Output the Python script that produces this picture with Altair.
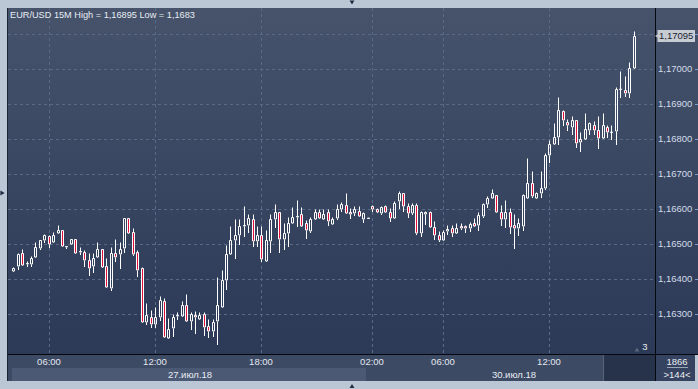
import altair as alt
import pandas as pd

# ---------------- data ----------------
idx = list(range(141))
opens = [1.16424,1.16438,1.16474,1.16443,1.16445,1.16465,1.16490,1.16511,1.16525,1.16506,
         1.16532,1.16541,1.16493,1.16500,1.16515,1.16477,1.16479,1.16455,1.16437,1.16465,
         1.16486,1.16437,1.16375,1.16474,1.16471,1.16489,1.16574,1.16534,1.16479,1.16431,
         1.16278,1.16293,1.16272,1.16291,1.16338,1.16232,1.16260,1.16296,1.16296,1.16326,
         1.16280,1.16297,1.16286,1.16300,1.16266,1.16251,1.16280,1.16320,1.16397,1.16472,
         1.16511,1.16527,1.16553,1.16555,1.16572,1.16510,1.16526,1.16453,1.16510,1.16572,
         1.16592,1.16514,1.16532,1.16560,1.16579,1.16586,1.16560,1.16539,1.16572,1.16593,
         1.16572,1.16592,1.16558,1.16574,1.16600,1.16612,1.16592,1.16590,1.16595,1.16572,
         1.16574,1.16610,1.16600,1.16590,1.16608,1.16593,1.16574,1.16625,1.16646,1.16608,
         1.16590,1.16612,1.16532,1.16586,1.16592,1.16550,1.16527,1.16512,1.16539,1.16547,
         1.16532,1.16552,1.16552,1.16546,1.16562,1.16555,1.16581,1.16614,1.16633,1.16640,
         1.16592,1.16572,1.16592,1.16555,1.16546,1.16553,1.16632,1.16675,1.16633,1.16646,
         1.16660,1.16755,1.16786,1.16806,1.16881,1.16849,1.16834,1.16855,1.16791,1.16800,
         1.16827,1.16841,1.16826,1.16805,1.16835,1.16820,1.16824,1.16943,1.16940,1.16932,
         1.17003]
highs = [1.16435,1.16474,1.16486,1.16452,1.16467,1.16506,1.16513,1.16529,1.16527,1.16535,
         1.16555,1.16542,1.16494,1.16516,1.16516,1.16491,1.16484,1.16474,1.16474,1.16506,
         1.16487,1.16460,1.16493,1.16516,1.16506,1.16575,1.16575,1.16546,1.16485,1.16435,
         1.16332,1.16312,1.16320,1.16353,1.16346,1.16289,1.16300,1.16307,1.16338,1.16357,
         1.16307,1.16309,1.16307,1.16307,1.16287,1.16287,1.16406,1.16427,1.16498,1.16552,
         1.16572,1.16572,1.16608,1.16587,1.16586,1.16552,1.16552,1.16541,1.16586,1.16614,
         1.16593,1.16560,1.16579,1.16606,1.16627,1.16606,1.16570,1.16579,1.16601,1.16601,
         1.16601,1.16600,1.16579,1.16615,1.16622,1.16646,1.16603,1.16608,1.16608,1.16592,
         1.16575,1.16612,1.16605,1.16609,1.16612,1.16605,1.16625,1.16653,1.16647,1.16619,
         1.16619,1.16617,1.16596,1.16596,1.16596,1.16567,1.16539,1.16541,1.16555,1.16555,
         1.16562,1.16560,1.16555,1.16565,1.16574,1.16592,1.16619,1.16638,1.16657,1.16641,
         1.16612,1.16627,1.16605,1.16586,1.16574,1.16644,1.16746,1.16710,1.16648,1.16710,
         1.16762,1.16798,1.16847,1.16922,1.16884,1.16859,1.16867,1.16856,1.16822,1.16876,
         1.16849,1.16851,1.16867,1.16876,1.16841,1.16841,1.16949,1.16995,1.16981,1.17020,
         1.17110]
lows = [1.16421,1.16427,1.16438,1.16436,1.16435,1.16460,1.16485,1.16505,1.16490,1.16504,
        1.16530,1.16493,1.16486,1.16499,1.16471,1.16469,1.16436,1.16410,1.16418,1.16460,
        1.16431,1.16376,1.16368,1.16450,1.16430,1.16476,1.16531,1.16467,1.16406,1.16276,
        1.16270,1.16260,1.16260,1.16280,1.16232,1.16231,1.16236,1.16284,1.16295,1.16279,
        1.16255,1.16245,1.16285,1.16239,1.16232,1.16236,1.16211,1.16319,1.16370,1.16471,
        1.16458,1.16498,1.16520,1.16532,1.16491,1.16491,1.16450,1.16450,1.16474,1.16546,
        1.16474,1.16484,1.16493,1.16559,1.16550,1.16552,1.16514,1.16532,1.16571,1.16572,
        1.16571,1.16553,1.16557,1.16570,1.16593,1.16589,1.16572,1.16581,1.16579,1.16560,
        1.16574,1.16593,1.16592,1.16584,1.16589,1.16565,1.16573,1.16600,1.16593,1.16574,
        1.16584,1.16527,1.16522,1.16555,1.16550,1.16512,1.16506,1.16510,1.16527,1.16522,
        1.16531,1.16541,1.16533,1.16536,1.16550,1.16539,1.16574,1.16604,1.16630,1.16589,
        1.16553,1.16546,1.16530,1.16487,1.16525,1.16539,1.16630,1.16632,1.16630,1.16631,
        1.16655,1.16733,1.16785,1.16784,1.16839,1.16825,1.16812,1.16774,1.16765,1.16799,
        1.16812,1.16812,1.16772,1.16804,1.16803,1.16798,1.16784,1.16919,1.16922,1.16919,
        1.17002]
closes = [1.16432,1.16472,1.16440,1.16446,1.16462,1.16491,1.16511,1.16526,1.16500,1.16526,
          1.16541,1.16494,1.16494,1.16515,1.16474,1.16482,1.16455,1.16431,1.16462,1.16486,
          1.16434,1.16377,1.16474,1.16465,1.16486,1.16574,1.16532,1.16471,1.16428,1.16278,
          1.16298,1.16272,1.16292,1.16340,1.16236,1.16259,1.16292,1.16297,1.16326,1.16280,
          1.16300,1.16291,1.16298,1.16265,1.16251,1.16277,1.16326,1.16398,1.16472,1.16512,
          1.16527,1.16552,1.16555,1.16574,1.16510,1.16526,1.16458,1.16513,1.16572,1.16592,
          1.16514,1.16532,1.16560,1.16579,1.16582,1.16553,1.16541,1.16572,1.16592,1.16574,
          1.16587,1.16567,1.16572,1.16600,1.16615,1.16590,1.16586,1.16601,1.16581,1.16589,
          1.16575,1.16600,1.16593,1.16606,1.16593,1.16574,1.16619,1.16646,1.16608,1.16590,
          1.16612,1.16532,1.16592,1.16592,1.16550,1.16527,1.16512,1.16536,1.16543,1.16532,
          1.16547,1.16546,1.16546,1.16557,1.16552,1.16584,1.16614,1.16632,1.16646,1.16592,
          1.16572,1.16592,1.16550,1.16546,1.16560,1.16641,1.16675,1.16639,1.16646,1.16660,
          1.16755,1.16787,1.16806,1.16884,1.16854,1.16840,1.16855,1.16789,1.16801,1.16829,
          1.16847,1.16826,1.16805,1.16841,1.16820,1.16821,1.16944,1.16944,1.16933,1.17003,
          1.17095]

price_levels = [1.163, 1.164, 1.165, 1.166, 1.167, 1.168, 1.169, 1.170, 1.171]
price_labels = ["1,16300", "1,16400", "1,16500", "1,16600", "1,16700", "1,16800", "1,16900", "1,17000", ""]
time_idx = [8, 32, 56, 81, 97, 121]
time_labels = ["06:00", "12:00", "18:00", "02:00", "06:00", "12:00"]
last_price = 1.17095
last_label = "1,17095"
title_text = "EUR/USD 15M High = 1,16895 Low = 1,1683"
dates = ["27.июл.18", "30.июл.18"]

# ---------------- layout ----------------
PL, PT = 8, 8          # plot origin in page pixels
W, H = 647, 346        # plot area
FONT = "Liberation Sans"

def px(x):  # page x -> plot x
    return x - PL

def py(y):
    return y - PT

xs = alt.Scale(domain=[-0.0667, 143.711], nice=False, zero=False, round=True)
ys = alt.Scale(domain=[1.161866, 1.171751], nice=False, zero=False, round=True)

df = pd.DataFrame({"i": idx, "o": opens, "h": highs, "l": lows, "c": closes})
df["top"] = df[["o", "c"]].max(axis=1)
df["bot"] = df[["o", "c"]].min(axis=1)
df["fillc"] = ["transparent" if c >= o else "#e0103c" for o, c in zip(opens, closes)]

one = pd.DataFrame({"a": [0]})

bg = alt.Chart(one).mark_rect(
    fill=alt.LinearGradient(gradient="linear",
                            stops=[alt.GradientStop(color="#46536b", offset=0),
                                   alt.GradientStop(color="#2c3957", offset=1)],
                            x1=0, x2=0, y1=0, y2=1)
).encode(x=alt.value(0), x2=alt.value(px(698)), y=alt.value(0), y2=alt.value(py(354)))

# panels of the time strip etc (page pixel boxes)
panels = pd.DataFrame([
    {"x": px(8), "x2": px(603), "y": py(355), "y2": py(381), "f": "#3d4a64"},
    {"x": px(12), "x2": px(366), "y": py(368), "y2": py(381), "f": "#4b5975"},
    {"x": px(603), "x2": px(655), "y": py(355), "y2": py(381), "f": "#27324b"},
    {"x": px(603), "x2": px(604), "y": py(355), "y2": py(381), "f": "#5a6479"},
    {"x": px(656), "x2": px(695), "y": py(355), "y2": py(381), "f": "#364360"},
    {"x": px(8), "x2": px(698), "y": py(354), "y2": py(355), "f": "#05080e"},
    {"x": px(655), "x2": px(656), "y": py(8), "y2": py(381), "f": "#05080e"},
    {"x": px(7), "x2": px(8), "y": py(8), "y2": py(381), "f": "#1b2538"},
    {"x": px(667), "x2": px(688), "y": py(367), "y2": py(368), "f": "#9aa5b6"},
    {"x": px(657.5), "x2": px(695), "y": py(30), "y2": py(42), "f": "#c7ccd3"},
])
panel_layer = alt.Chart(panels).mark_rect().encode(
    x=alt.X("x:Q", scale=None), x2="x2", y=alt.Y("y:Q", scale=None), y2="y2",
    fill=alt.Fill("f:N", scale=None))

# grid
hgrid = alt.Chart(pd.DataFrame({"v": price_levels})).mark_rule(
    color="#5a6985", strokeDash=[3, 3], strokeWidth=1, yOffset=0.5
).encode(y=alt.Y("v:Q", scale=ys, axis=None), x=alt.value(0), x2=alt.value(W))
vgrid = alt.Chart(pd.DataFrame({"i": time_idx})).mark_rule(
    color="#5a6985", strokeDash=[3, 3], strokeWidth=1, xOffset=0.5
).encode(x=alt.X("i:Q", scale=xs, axis=None), y=alt.value(0), y2=alt.value(H))

# candles
base = alt.Chart(df)
wick_up = base.mark_rule(color="white", strokeWidth=1, clip=True, xOffset=0.5, yOffset=0.5).encode(
    x=alt.X("i:Q", scale=xs, axis=None), y=alt.Y("h:Q", scale=ys, axis=None), y2="top:Q")
wick_dn = base.mark_rule(color="white", strokeWidth=1, clip=True, xOffset=0.5, yOffset=0.5).encode(
    x=alt.X("i:Q", scale=xs, axis=None), y=alt.Y("bot:Q", scale=ys, axis=None), y2="l:Q")
body = base.mark_bar(size=2, stroke="white", strokeWidth=1, clip=True,
                     xOffset=0.5, yOffset=0.5).encode(
    x=alt.X("i:Q", scale=xs, axis=None), y=alt.Y("top:Q", scale=ys, axis=None), y2="bot:Q",
    fill=alt.Fill("fillc:N", scale=None))

# price labels (right axis)
plab = pd.DataFrame({"v": price_levels, "t": price_labels})
ylabels = alt.Chart(plab).mark_text(
    align="left", baseline="middle", font=FONT, fontSize=9.5, color="#d2dceb"
).encode(y=alt.Y("v:Q", scale=ys, axis=None), x=alt.value(px(658)), text="t:N")
yticks = alt.Chart(plab).mark_rule(color="#7d9cc9", strokeWidth=1, yOffset=0.5).encode(
    y=alt.Y("v:Q", scale=ys, axis=None), x=alt.value(px(695)), x2=alt.value(px(698)))

# last price tag
tag = pd.DataFrame({"v": [last_price], "t": [last_label]})
tag_arrow = alt.Chart(tag).mark_point(shape="triangle-left", filled=True, size=22,
                                      color="#c7ccd3", opacity=1).encode(
    y=alt.Y("v:Q", scale=ys, axis=None), x=alt.value(px(657)))
tag_text = alt.Chart(tag).mark_text(align="left", baseline="middle", font=FONT,
                                    fontSize=9.5, color="#1b2433").encode(
    y=alt.Y("v:Q", scale=ys, axis=None), x=alt.value(px(659)), text="t:N")

# time labels
tl = pd.DataFrame({"i": time_idx, "t": time_labels})
tlabels = alt.Chart(tl).mark_text(align="center", baseline="middle", font=FONT,
                                  fontSize=9.5, color="#e2e8f0").encode(
    x=alt.X("i:Q", scale=xs, axis=None), y=alt.value(py(362)), text="t:N")

# other texts at page positions
texts = pd.DataFrame([
    {"x": px(10), "y": py(14.5), "t": title_text, "a": "left", "s": 9.2},
    {"x": px(190), "y": py(374.5), "t": dates[0], "a": "center", "s": 9.5},
    {"x": px(514), "y": py(374.5), "t": dates[1], "a": "center", "s": 9.5},
    {"x": px(677), "y": py(361.5), "t": "1866", "a": "center", "s": 9.5},
    {"x": px(677), "y": py(374.5), "t": ">144<", "a": "center", "s": 9.5},
    {"x": px(645), "y": py(347), "t": "3", "a": "center", "s": 9.5},
])
text_layers = []
for a in ["left", "center"]:
    text_layers.append(alt.Chart(texts[texts.a == a]).mark_text(
        align=a, baseline="middle", font=FONT, color="#e8edf3"
    ).encode(x=alt.X("x:Q", scale=None), y=alt.Y("y:Q", scale=None), text="t:N",
             size=alt.Size("s:Q", scale=None)))

# small triangles
tri = pd.DataFrame([
    {"x": px(352), "y": py(2.5), "s": "triangle-down", "c": "#1f2b42"},
    {"x": px(352), "y": py(386), "s": "triangle-up", "c": "#1f2b42"},
    {"x": px(2.5), "y": py(193), "s": "triangle-right", "c": "#1f2b42"},
    {"x": px(637), "y": py(349.5), "s": "triangle-up", "c": "#5b667b"},
])
tri_layer = alt.Chart(tri).mark_point(filled=True, size=24, opacity=1).encode(
    x=alt.X("x:Q", scale=None), y=alt.Y("y:Q", scale=None),
    shape=alt.Shape("s:N", scale=None), color=alt.Color("c:N", scale=None))

chart = alt.layer(
    bg, panel_layer, hgrid, vgrid, wick_up, wick_dn, body,
    ylabels, yticks, tag_arrow, tag_text, tlabels, *text_layers, tri_layer
).properties(
    width=W, height=H,
    padding={"left": PL, "top": PT, "right": 698 - PL - W, "bottom": 389 - PT - H},
    autosize=alt.AutoSizeParams(type="none"),
    background="#bcc7d5",
).configure_view(stroke=None)

chart.save("out.html", embed_options={"renderer": "svg", "actions": False})
